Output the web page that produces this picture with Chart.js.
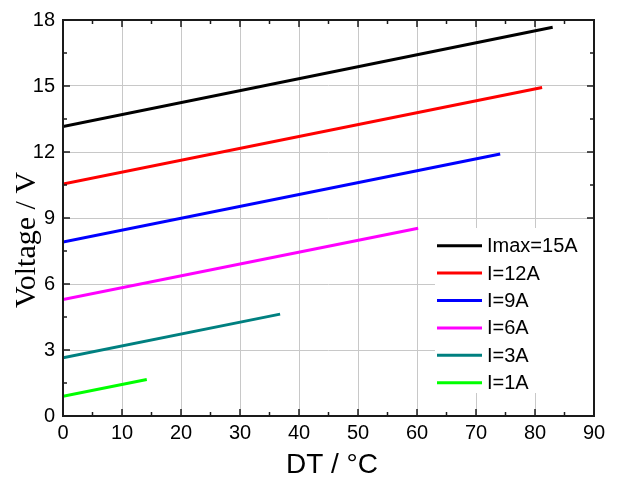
<!DOCTYPE html>
<html>
<head>
<meta charset="utf-8">
<script src="https://cdn.jsdelivr.net/npm/chart.js@4.4.1/dist/chart.umd.min.js"></script>
<style>
    html, body { margin: 0; padding: 0; background: #ffffff; }
    #wrap { width: 617px; height: 481px; }
</style>
</head>
<body>
<div id="wrap"><canvas id="chart" width="617" height="481"></canvas></div>
<script>
// Voltage against temperature difference for several currents
const seriesLabels = ['Imax=15A', 'I=12A', 'I=9A', 'I=6A', 'I=3A', 'I=1A'];
const seriesColors = ['#000000', '#ff0000', '#0000ff', '#ff00ff', '#008080', '#00ff00'];
const dtStart = [0, 0, 0, 0, 0, 0];
const dtEnd = [83, 81.2, 74.1, 60.2, 36.8, 14.2];
const voltStart = [13.16, 10.54, 7.91, 5.29, 2.65, 0.9];
const voltEnd = [17.67, 14.93, 11.91, 8.53, 4.63, 1.66];

const xTicks = [0, 10, 20, 30, 40, 50, 60, 70, 80, 90];
const yTicks = [0, 3, 6, 9, 12, 15, 18];

const SANS = '"Liberation Sans", Arial, sans-serif';
const SERIF = '"Liberation Serif", "Times New Roman", serif';

const datasets = seriesLabels.map((label, i) => ({
    label: label,
    data: [
        { x: dtStart[i], y: voltStart[i] },
        { x: dtEnd[i], y: voltEnd[i] }
    ],
    borderColor: seriesColors[i],
    backgroundColor: seriesColors[i],
    borderWidth: 3,
    pointRadius: 0,
    tension: 0
}));

// frame, inside ticks, titles and the boxed legend
const framePlugin = {
    id: 'frame',
    afterDatasetsDraw(chart) {
        const ctx = chart.ctx;
        const area = chart.chartArea;
        const xs = chart.scales.x;
        const ys = chart.scales.y;

        ctx.save();
        ctx.strokeStyle = '#1a1a1a';
        ctx.lineWidth = 1.5;
        const tick = (x1, y1, x2, y2) => {
            ctx.beginPath();
            ctx.moveTo(x1, y1);
            ctx.lineTo(x2, y2);
            ctx.stroke();
        };
        for (let v = 0; v <= 90; v += 5) {
            const len = v % 10 === 0 ? 7 : 4;
            const px = xs.getPixelForValue(v);
            tick(px, area.bottom, px, area.bottom - len);
            tick(px, area.top, px, area.top + len);
        }
        for (let v = 0; v <= 18; v += 1.5) {
            const len = v % 3 === 0 ? 7 : 4;
            const py = ys.getPixelForValue(v);
            tick(area.left, py, area.left + len, py);
            tick(area.right, py, area.right - len, py);
        }
        ctx.lineWidth = 2;
        ctx.strokeRect(area.left, area.top, area.right - area.left, area.bottom - area.top);

        // legend box
        const boxLeft = 435, boxTop = 228, boxBottom = 393;
        ctx.fillStyle = '#ffffff';
        ctx.fillRect(boxLeft, boxTop, area.right - 1 - boxLeft, boxBottom - boxTop);
        ctx.font = '20px ' + SANS;
        ctx.textBaseline = 'middle';
        ctx.textAlign = 'left';
        chart.data.datasets.forEach((ds, i) => {
            const y = 245.7 + i * 27.4;
            ctx.strokeStyle = ds.borderColor;
            ctx.lineWidth = 3;
            tick(437, y, 482, y);
            ctx.fillStyle = '#000000';
            ctx.fillText(ds.label, 487, y + 1);
        });

        // axis titles
        ctx.fillStyle = '#000000';
        ctx.textAlign = 'center';
        ctx.font = '28px ' + SANS;
        ctx.fillText('DT / \u00b0C', 332, 465);
        ctx.translate(27, 240);
        ctx.rotate(-Math.PI / 2);
        ctx.font = '30px ' + SERIF;
        ctx.fillText('Voltage / V', 0, 0);
        ctx.restore();
    }
};

new Chart(document.getElementById('chart').getContext('2d'), {
    type: 'line',
    data: { datasets: datasets },
    options: {
        responsive: false,
        animation: false,
        layout: { padding: { top: 18, right: 23, left: 0, bottom: 0 } },
        plugins: {
            legend: { display: false },
            tooltip: { enabled: false }
        },
        scales: {
            x: {
                type: 'linear',
                min: 0,
                max: 90,
                afterFit: (scale) => { scale.height = 65; },
                afterBuildTicks: (scale) => { scale.ticks = xTicks.map(v => ({ value: v })); },
                border: { display: false },
                grid: { color: '#c8c8c8', lineWidth: 1, drawTicks: false },
                ticks: {
                    padding: 5,
                    color: '#000000',
                    font: { family: SANS, size: 20 }
                }
            },
            y: {
                type: 'linear',
                min: 0,
                max: 18,
                afterFit: (scale) => { scale.width = 63; },
                afterBuildTicks: (scale) => { scale.ticks = yTicks.map(v => ({ value: v })); },
                border: { display: false },
                grid: { color: '#c8c8c8', lineWidth: 1, drawTicks: false },
                ticks: {
                    padding: 8,
                    color: '#000000',
                    font: { family: SANS, size: 20 }
                }
            }
        }
    },
    plugins: [framePlugin]
});
</script>
</body>
</html>
